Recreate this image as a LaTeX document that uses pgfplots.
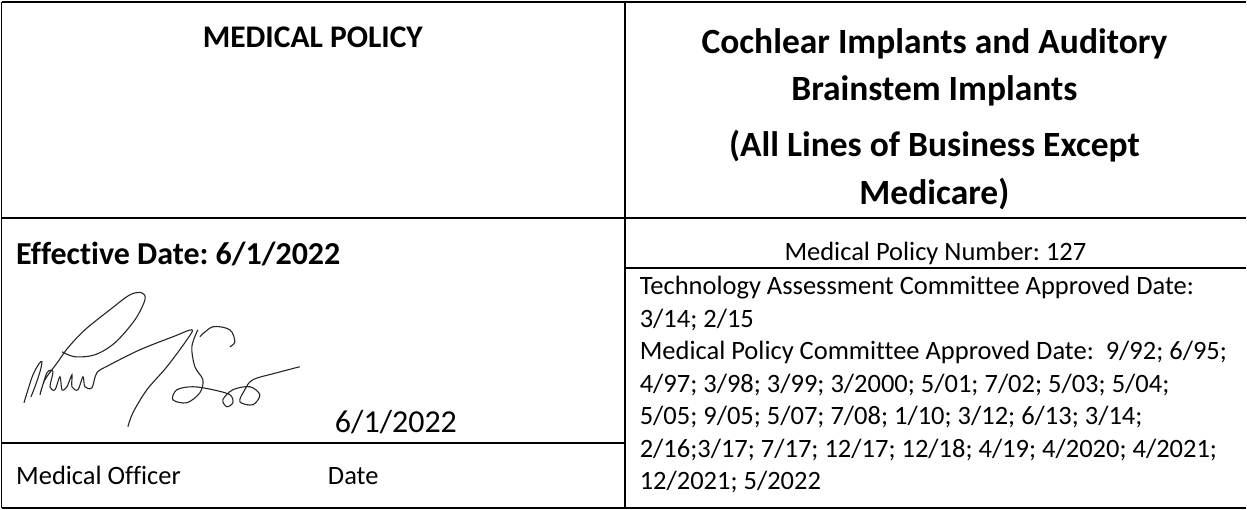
\documentclass[border=0pt]{standalone}
\usepackage{pgfplots}
\pgfplotsset{compat=1.18}
\usepackage{fontspec}
\setmainfont{Carlito}[Ligatures={NoCommon}]
\frenchspacing
\newcommand{\bodyf}{\fontsize{26.5bp}{32bp}\selectfont}
\newcommand{\bigf}{\fontsize{32bp}{38bp}\selectfont}
\newcommand{\medf}{\fontsize{31.5bp}{38bp}\selectfont\bfseries}
\newcommand{\titf}{\fontsize{35.5bp}{43bp}\selectfont\bfseries}
\begin{document}
\begin{tikzpicture}
\begin{axis}[
  width=1247bp, height=510bp, scale only axis,
  xmin=0, xmax=1247, ymin=0, ymax=510, y dir=reverse,
  axis line style={draw=none}, ticks=none, clip=false,
]
% table rules
\addplot[black, line width=1.6bp] coordinates {(1.7,2.3)(1247,2.3)};
\addplot[black, line width=1.6bp] coordinates {(1.7,508.5)(1247,508.5)};
\addplot[black, line width=1.6bp] coordinates {(1.7,2.3)(1.7,508.5)};
\addplot[black, line width=1.6bp] coordinates {(625.5,2.3)(625.5,508.5)};
\addplot[black, line width=1.6bp] coordinates {(1.7,218)(1247,218)};
\addplot[black, line width=1.6bp] coordinates {(625.5,268)(1247,268)};
\addplot[black, line width=1.6bp] coordinates {(1.7,443)(625.5,443)};
% signature
\addplot[black!85, line width=1.1bp, smooth, tension=0.55] coordinates {
(24,403)(28,390)(33,375)(39,364)(42,362)(40,372)(35,387)(31,397)};
\addplot[black!85, line width=1.1bp, smooth, tension=0.55] coordinates {
(62,352)(75,357)(95,355)(115,343)(135,320)(145,300)(142,293)(130,295)(110,310)(85,330)(68,348)(58,362)(45,380)(40,395)
(47,373)(53,372)(50,387)(55,390)(60,377)(62,390)(67,387)(72,375)(72,387)(78,390)(83,377)(85,387)(92,388)(97,373)(110,365)
(140,350)(173,337)(192,330)(187,340)(167,367)(147,390)(133,413)(128,427)};
\addplot[black!85, line width=1.1bp, smooth, tension=0.55] coordinates {
(200,337)(213,327)(230,330)(235,342)(230,347)};
\addplot[black!85, line width=1.1bp, smooth, tension=0.55] coordinates {
(198,330)(192,347)(195,367)(203,380)(200,393)(187,403)(173,400)(177,390)(193,387)(213,390)(230,395)(233,403)(227,407)(223,400)(233,390)(250,387)(260,395)(253,405)(240,402)(245,390)(253,380)(277,373)(300,367)};
% left column text
\node[anchor=base, inner sep=0pt, font=\medf] at (axis cs:313,48) {MEDICAL POLICY};
\node[anchor=base west, inner sep=0pt, font=\bigf\bfseries] at (axis cs:16,265) {Effective Date: 6/1/2022};
\node[anchor=base west, inner sep=0pt, font=\bigf] at (axis cs:335,433) {6/1/2022};
\node[anchor=base west, inner sep=0pt, font=\bodyf] at (axis cs:16,485) {Medical Officer};
\node[anchor=base west, inner sep=0pt, font=\bodyf] at (axis cs:328,485) {Date};
% right column text
\node[anchor=base, inner sep=0pt, font=\titf] at (axis cs:935,54) {Cochlear Implants and Auditory};
\node[anchor=base, inner sep=0pt, font=\titf] at (axis cs:935,101) {Brainstem Implants};
\node[anchor=base, inner sep=0pt, font=\titf] at (axis cs:935,157) {(All Lines of Business Except};
\node[anchor=base, inner sep=0pt, font=\titf] at (axis cs:935,205) {Medicare)};
\node[anchor=base, inner sep=0pt, font=\bodyf] at (axis cs:936,261) {Medical Policy Number: 127};
\node[anchor=base west, inner sep=0pt, font=\bodyf] at (axis cs:640,295) {Technology Assessment Committee Approved Date:};
\node[anchor=base west, inner sep=0pt, font=\bodyf] at (axis cs:640,327.5) {3/14; 2/15};
\node[anchor=base west, inner sep=0pt, font=\bodyf] at (axis cs:640,360) {Medical Policy Committee Approved Date:\ \ 9/92; 6/95;};
\node[anchor=base west, inner sep=0pt, font=\bodyf] at (axis cs:640,392.5) {4/97; 3/98; 3/99; 3/2000; 5/01; 7/02; 5/03; 5/04;};
\node[anchor=base west, inner sep=0pt, font=\bodyf] at (axis cs:640,425) {5/05; 9/05; 5/07; 7/08; 1/10; 3/12; 6/13; 3/14;};
\node[anchor=base west, inner sep=0pt, font=\bodyf] at (axis cs:640,457.5) {2/16;3/17; 7/17; 12/17; 12/18; 4/19; 4/2020; 4/2021;};
\node[anchor=base west, inner sep=0pt, font=\bodyf] at (axis cs:640,490) {12/2021; 5/2022};
\end{axis}
\end{tikzpicture}
\end{document}
